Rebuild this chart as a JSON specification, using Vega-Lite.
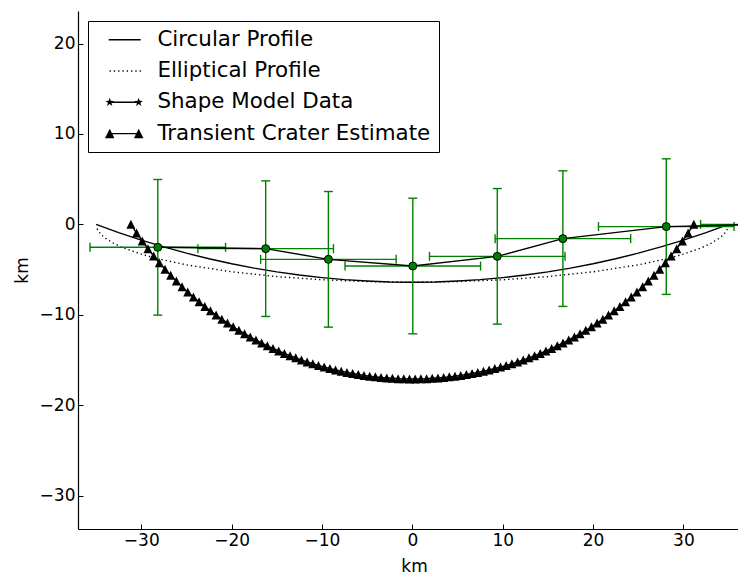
{
  "$schema": "https://vega.github.io/schema/vega-lite/v6.json",
  "width": 660,
  "height": 518,
  "autosize": {"type": "none"},
  "padding": {"left": 78, "top": 11, "right": 0, "bottom": 49},
  "background": "white",
  "config": {
    "view": {"stroke": null},
    "font": "DejaVu Sans",
    "axis": {"grid": false}
  },
  "datasets": {
    "circ": [
      {"x": -35, "y": 0.0}, {"x": -32.5, "y": -0.91}, {"x": -30, "y": -1.74}, {"x": -27.5, "y": -2.5},
      {"x": -25, "y": -3.19}, {"x": -22.5, "y": -3.81}, {"x": -20, "y": -4.36}, {"x": -17.5, "y": -4.84},
      {"x": -15, "y": -5.26}, {"x": -12.5, "y": -5.61}, {"x": -10, "y": -5.89}, {"x": -7.5, "y": -6.12},
      {"x": -5, "y": -6.27}, {"x": -2.5, "y": -6.37}, {"x": 0, "y": -6.4}, {"x": 2.5, "y": -6.37},
      {"x": 5, "y": -6.27}, {"x": 7.5, "y": -6.12}, {"x": 10, "y": -5.89}, {"x": 12.5, "y": -5.61},
      {"x": 15, "y": -5.26}, {"x": 17.5, "y": -4.84}, {"x": 20, "y": -4.36}, {"x": 22.5, "y": -3.81},
      {"x": 25, "y": -3.19}, {"x": 27.5, "y": -2.5}, {"x": 30, "y": -1.74}, {"x": 32.5, "y": -0.91},
      {"x": 35, "y": 0.0}
    ],
    "ell": [
      {"x": -34.9, "y": -0.48}, {"x": -34.5, "y": -1.08}, {"x": -34, "y": -1.52}, {"x": -33, "y": -2.13},
      {"x": -32, "y": -2.59}, {"x": -30, "y": -3.3}, {"x": -28, "y": -3.84}, {"x": -25, "y": -4.48},
      {"x": -20, "y": -5.25}, {"x": -15, "y": -5.78}, {"x": -10, "y": -6.13}, {"x": -5, "y": -6.33},
      {"x": 0, "y": -6.4}, {"x": 5, "y": -6.33}, {"x": 10, "y": -6.13}, {"x": 15, "y": -5.78},
      {"x": 20, "y": -5.25}, {"x": 25, "y": -4.48}, {"x": 28, "y": -3.84}, {"x": 30, "y": -3.3},
      {"x": 32, "y": -2.59}, {"x": 33, "y": -2.13}, {"x": 34, "y": -1.52}, {"x": 34.5, "y": -1.08},
      {"x": 34.9, "y": -0.48}
    ],
    "tc": [
      {"x": -31.15, "y": 0.0}, {"x": -30.521, "y": -0.96}, {"x": -29.892, "y": -1.85}, {"x": -29.262, "y": -2.69},
      {"x": -28.633, "y": -3.49}, {"x": -28.004, "y": -4.24}, {"x": -27.374, "y": -4.96}, {"x": -26.745, "y": -5.63},
      {"x": -26.116, "y": -6.28}, {"x": -25.487, "y": -6.89}, {"x": -24.857, "y": -7.48}, {"x": -24.228, "y": -8.04},
      {"x": -23.599, "y": -8.57}, {"x": -22.969, "y": -9.09}, {"x": -22.34, "y": -9.57}, {"x": -21.711, "y": -10.04},
      {"x": -21.081, "y": -10.49}, {"x": -20.452, "y": -10.92}, {"x": -19.823, "y": -11.33}, {"x": -19.194, "y": -11.72},
      {"x": -18.564, "y": -12.09}, {"x": -17.935, "y": -12.45}, {"x": -17.306, "y": -12.79}, {"x": -16.676, "y": -13.12},
      {"x": -16.047, "y": -13.43}, {"x": -15.418, "y": -13.73}, {"x": -14.788, "y": -14.01}, {"x": -14.159, "y": -14.28},
      {"x": -13.53, "y": -14.53}, {"x": -12.901, "y": -14.77}, {"x": -12.271, "y": -15.0}, {"x": -11.642, "y": -15.22},
      {"x": -11.013, "y": -15.42}, {"x": -10.383, "y": -15.61}, {"x": -9.754, "y": -15.79}, {"x": -9.125, "y": -15.95},
      {"x": -8.495, "y": -16.11}, {"x": -7.866, "y": -16.25}, {"x": -7.237, "y": -16.38}, {"x": -6.608, "y": -16.5},
      {"x": -5.978, "y": -16.61}, {"x": -5.349, "y": -16.71}, {"x": -4.72, "y": -16.8}, {"x": -4.09, "y": -16.87},
      {"x": -3.461, "y": -16.94}, {"x": -2.832, "y": -16.99}, {"x": -2.202, "y": -17.03}, {"x": -1.573, "y": -17.07},
      {"x": -0.944, "y": -17.09}, {"x": -0.315, "y": -17.1},
      {"x": 0.315, "y": -17.1}, {"x": 0.944, "y": -17.09}, {"x": 1.573, "y": -17.07}, {"x": 2.202, "y": -17.03},
      {"x": 2.832, "y": -16.99}, {"x": 3.461, "y": -16.94}, {"x": 4.09, "y": -16.87}, {"x": 4.72, "y": -16.8},
      {"x": 5.349, "y": -16.71}, {"x": 5.978, "y": -16.61}, {"x": 6.608, "y": -16.5}, {"x": 7.237, "y": -16.38},
      {"x": 7.866, "y": -16.25}, {"x": 8.495, "y": -16.11}, {"x": 9.125, "y": -15.95}, {"x": 9.754, "y": -15.79},
      {"x": 10.383, "y": -15.61}, {"x": 11.013, "y": -15.42}, {"x": 11.642, "y": -15.22}, {"x": 12.271, "y": -15.0},
      {"x": 12.901, "y": -14.77}, {"x": 13.53, "y": -14.53}, {"x": 14.159, "y": -14.28}, {"x": 14.788, "y": -14.01},
      {"x": 15.418, "y": -13.73}, {"x": 16.047, "y": -13.43}, {"x": 16.676, "y": -13.12}, {"x": 17.306, "y": -12.79},
      {"x": 17.935, "y": -12.45}, {"x": 18.564, "y": -12.09}, {"x": 19.194, "y": -11.72}, {"x": 19.823, "y": -11.33},
      {"x": 20.452, "y": -10.92}, {"x": 21.081, "y": -10.49}, {"x": 21.711, "y": -10.04}, {"x": 22.34, "y": -9.57},
      {"x": 22.969, "y": -9.09}, {"x": 23.599, "y": -8.57}, {"x": 24.228, "y": -8.04}, {"x": 24.857, "y": -7.48},
      {"x": 25.487, "y": -6.89}, {"x": 26.116, "y": -6.28}, {"x": 26.745, "y": -5.63}, {"x": 27.374, "y": -4.96},
      {"x": 28.004, "y": -4.24}, {"x": 28.633, "y": -3.49}, {"x": 29.262, "y": -2.69}, {"x": 29.892, "y": -1.85},
      {"x": 30.521, "y": -0.96}, {"x": 31.15, "y": 0.0}
    ],
    "smd": [
      {"x": -28.17, "y": -2.54, "xlo": -35.67, "xhi": -20.67, "ylo": -10.04, "yhi": 4.96},
      {"x": -16.23, "y": -2.69, "xlo": -23.73, "xhi": -8.73, "ylo": -10.19, "yhi": 4.81},
      {"x": -9.29, "y": -3.87, "xlo": -16.79, "xhi": -1.79, "ylo": -11.37, "yhi": 3.63},
      {"x": 0.05, "y": -4.61, "xlo": -7.45, "xhi": 7.55, "ylo": -12.11, "yhi": 2.89},
      {"x": 9.4, "y": -3.54, "xlo": 1.9, "xhi": 16.9, "ylo": -11.04, "yhi": 3.96},
      {"x": 16.66, "y": -1.58, "xlo": 9.16, "xhi": 24.16, "ylo": -9.08, "yhi": 5.92},
      {"x": 28.1, "y": -0.25, "xlo": 20.6, "xhi": 35.6, "ylo": -7.75, "yhi": 7.25},
      {"x": 39.4, "y": 0.0, "xlo": 31.9, "xhi": 46.9, "ylo": -7.5, "yhi": 7.5}
    ],
    "leg": [
      {"series": "Circular Profile"},
      {"series": "Elliptical Profile"},
      {"series": "Shape Model Data"},
      {"series": "Transient Crater Estimate"}
    ]
  },
  "encoding": {
    "x": {
      "field": "x", "type": "quantitative",
      "scale": {"domain": [-37, 36.04], "nice": false, "zero": false},
      "axis": {
        "orient": "bottom", "values": [-30, -20, -10, 0, 10, 20, 30],
        "title": "km", "titleFont": "DejaVu Sans", "titleFontSize": 17, "titleFontWeight": "normal",
        "titleColor": "black", "titlePadding": 10, "titleX": 336,
        "labelFont": "DejaVu Sans", "labelFontSize": 17, "labelColor": "black", "labelPadding": 8,
        "tickColor": "black", "tickSize": -5, "tickWidth": 1, "domainColor": "black", "domainWidth": 1.2,
        "labelFlush": false, "labelOverlap": false
      }
    },
    "y": {
      "field": "y", "type": "quantitative",
      "scale": {"domain": [-33.7, 23.6], "nice": false, "zero": false},
      "axis": {
        "values": [-30, -20, -10, 0, 10, 20],
        "title": "km", "titleFont": "DejaVu Sans", "titleFontSize": 17, "titleFontWeight": "normal",
        "titleColor": "black", "titlePadding": 8,
        "labelFont": "DejaVu Sans", "labelFontSize": 17, "labelColor": "black", "labelPadding": 8,
        "tickColor": "black", "tickSize": -5, "tickWidth": 1, "domainColor": "black", "domainWidth": 1.2,
        "labelFlush": false, "labelOverlap": false
      }
    }
  },
  "layer": [
    {
      "data": {"name": "circ"},
      "mark": {"type": "line", "color": "black", "strokeWidth": 1.4, "clip": true},
      "encoding": {}
    },
    {
      "data": {"name": "ell"},
      "mark": {"type": "line", "color": "black", "strokeWidth": 1.4, "strokeDash": [1.3, 3], "clip": true},
      "encoding": {}
    },
    {
      "data": {"name": "smd"},
      "mark": {"type": "rule", "color": "#008000", "strokeWidth": 1.4, "clip": true},
      "encoding": {
        "y": {"field": "ylo", "type": "quantitative"},
        "y2": {"field": "yhi"}
      }
    },
    {
      "data": {"name": "smd"},
      "mark": {"type": "rule", "color": "#008000", "strokeWidth": 1.4, "clip": true},
      "encoding": {
        "x": {"field": "xlo", "type": "quantitative"},
        "x2": {"field": "xhi"}
      }
    },
    {
      "data": {"name": "smd"},
      "mark": {"type": "point", "shape": "M-1,0L1,0", "filled": false, "stroke": "#008000", "strokeWidth": 1.4, "size": 81, "opacity": 1, "clip": true},
      "encoding": {"y": {"field": "ylo", "type": "quantitative"}}
    },
    {
      "data": {"name": "smd"},
      "mark": {"type": "point", "shape": "M-1,0L1,0", "filled": false, "stroke": "#008000", "strokeWidth": 1.4, "size": 81, "opacity": 1, "clip": true},
      "encoding": {"y": {"field": "yhi", "type": "quantitative"}}
    },
    {
      "data": {"name": "smd"},
      "mark": {"type": "point", "shape": "M0,-1L0,1", "filled": false, "stroke": "#008000", "strokeWidth": 1.4, "size": 81, "opacity": 1, "clip": true},
      "encoding": {"x": {"field": "xlo", "type": "quantitative"}}
    },
    {
      "data": {"name": "smd"},
      "mark": {"type": "point", "shape": "M0,-1L0,1", "filled": false, "stroke": "#008000", "strokeWidth": 1.4, "size": 81, "opacity": 1, "clip": true},
      "encoding": {"x": {"field": "xhi", "type": "quantitative"}}
    },
    {
      "data": {"name": "smd"},
      "mark": {"type": "line", "color": "black", "strokeWidth": 1.4, "clip": true},
      "encoding": {}
    },
    {
      "data": {"name": "tc"},
      "mark": {"type": "line", "color": "black", "strokeWidth": 1.4, "clip": true},
      "encoding": {}
    },
    {
      "data": {"name": "tc"},
      "mark": {"type": "point", "shape": "M0,-1L1,1L-1,1Z", "filled": true, "color": "black", "size": 81, "opacity": 1, "clip": true},
      "encoding": {}
    },
    {
      "data": {"name": "smd"},
      "mark": {"type": "point", "shape": "circle", "filled": true, "fill": "#008000", "stroke": "black", "strokeWidth": 1, "size": 64, "opacity": 1, "clip": true},
      "encoding": {}
    },
    {
      "data": {"name": "leg"},
      "mark": {"type": "point", "filled": true, "color": "black", "opacity": 1, "clip": true},
      "encoding": {
        "shape": {
          "field": "series", "type": "nominal",
          "scale": {
            "domain": ["Circular Profile", "Elliptical Profile", "Shape Model Data", "Transient Crater Estimate"],
            "range": [
              "M0.4,-0.14H6.8V0.14H0.4Z",
              "M0.57,-0.13h0.26v0.26h-0.26Z M1.43,-0.13h0.26v0.26h-0.26Z M2.29,-0.13h0.26v0.26h-0.26Z M3.15,-0.13h0.26v0.26h-0.26Z M4.01,-0.13h0.26v0.26h-0.26Z M4.87,-0.13h0.26v0.26h-0.26Z M5.73,-0.13h0.26v0.26h-0.26Z M6.59,-0.13h0.26v0.26h-0.26Z",
              "M0.6,-0.14H6.4V0.14H0.6Z M0.6,-0.9L0.812,-0.291L1.456,-0.278L0.942,0.111L1.129,0.728L0.6,0.36L0.071,0.728L0.258,0.111L-0.256,-0.278L0.388,-0.291Z M6.4,-0.9L6.612,-0.291L7.256,-0.278L6.742,0.111L6.929,0.728L6.4,0.36L5.871,0.728L6.058,0.111L5.544,-0.278L6.188,-0.291Z",
              "M0.6,-0.14H6.4V0.14H0.6Z M0.6,-0.95L1.55,0.95L-0.35,0.95Z M6.4,-0.95L7.35,0.95L5.45,0.95Z"
            ]
          },
          "legend": {
            "title": null, "orient": "top-left", "offset": 10, "padding": 8,
            "strokeColor": "black", "fillColor": "white", "cornerRadius": 0,
            "labelFont": "DejaVu Sans", "labelFontSize": 21.4, "labelColor": "black", "labelLimit": 400,
            "labelOffset": 40, "rowPadding": 8.3, "symbolSize": 100,
            "symbolFillColor": "black", "symbolStrokeWidth": 0, "symbolOpacity": 1
          }
        }
      }
    }
  ]
}
